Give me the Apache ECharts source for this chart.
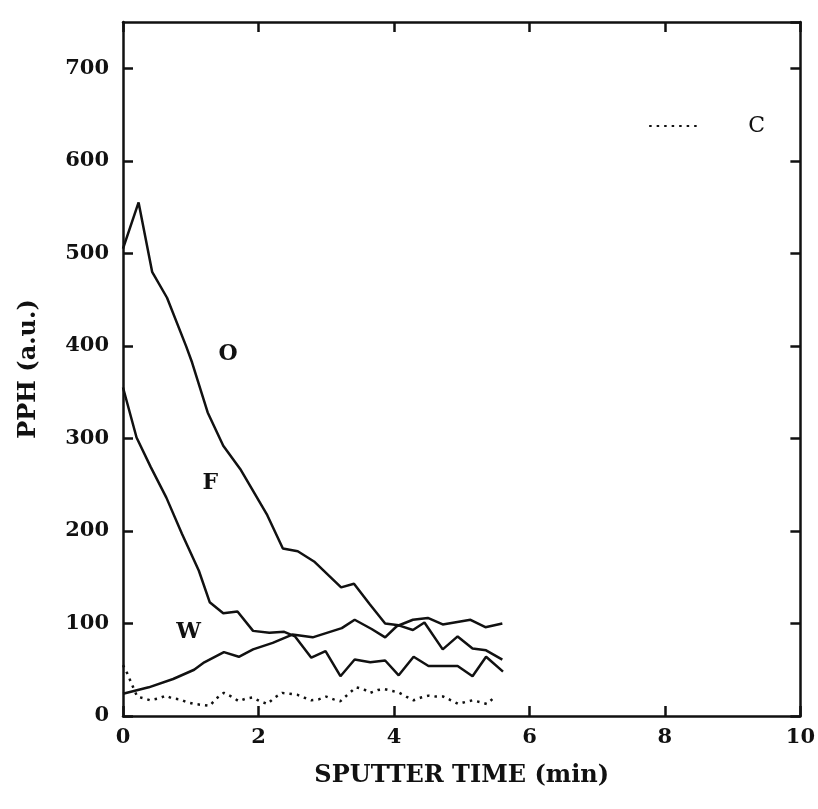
<!DOCTYPE html>
<html>
<head>
<meta charset="utf-8">
<script src="https://cdn.jsdelivr.net/npm/echarts@6/dist/echarts.min.js"></script>
<style>
  html, body { margin: 0; padding: 0; background: #fff; }
  #chart { width: 818px; height: 809px; }
</style>
</head>
<body>
<div id="chart"></div>
<script>
// sputter time (min), PPH (a.u.)
var oData = [[0, 505], [0.23, 555], [0.43, 480], [0.65, 452], [0.93, 400], [1.02, 382], [1.25, 328],
    [1.48, 292], [1.73, 267], [2.13, 217], [2.36, 181], [2.58, 178], [2.82, 167], [3.22, 139],
    [3.41, 143], [3.64, 121], [3.87, 100], [4.07, 98], [4.28, 93], [4.45, 101], [4.72, 72],
    [4.94, 86], [5.16, 73], [5.36, 71], [5.6, 61]];
var fData = [[0, 355], [0.2, 301], [0.41, 269], [0.64, 236], [0.87, 197], [1.12, 157], [1.28, 123],
    [1.48, 111], [1.69, 113], [1.92, 92], [2.16, 90], [2.38, 91], [2.54, 86], [2.78, 63],
    [2.99, 70], [3.21, 43], [3.42, 61], [3.65, 58], [3.87, 60], [4.07, 44], [4.29, 64],
    [4.51, 54], [4.94, 54], [5.16, 43], [5.36, 64], [5.61, 48]];
var wData = [[0, 24], [0.38, 31], [0.74, 40], [1.05, 50], [1.2, 58], [1.49, 69], [1.71, 64],
    [1.92, 72], [2.21, 79], [2.5, 88], [2.8, 85], [3.23, 95], [3.42, 104], [3.67, 94],
    [3.87, 85], [4.04, 97], [4.28, 104], [4.5, 106], [4.72, 99], [5.13, 104], [5.35, 96], [5.6, 100]];
var cData = [[0, 55], [0.07, 45], [0.12, 36], [0.21, 21], [0.31, 19], [0.4, 17], [0.53, 19],
    [0.63, 22], [0.73, 19], [0.84, 18], [0.94, 15], [1.05, 13], [1.17, 12], [1.28, 11],
    [1.38, 19], [1.49, 25], [1.6, 21], [1.71, 16], [1.82, 19], [1.91, 20], [2.02, 16],
    [2.13, 13], [2.24, 20], [2.35, 25], [2.46, 24], [2.57, 23], [2.67, 20], [2.78, 17],
    [2.89, 18], [3.0, 21], [3.11, 18], [3.21, 16], [3.33, 24], [3.44, 31], [3.55, 29],
    [3.65, 25], [3.76, 28], [3.86, 29], [3.98, 27], [4.08, 25], [4.18, 21], [4.29, 17],
    [4.4, 20], [4.51, 22], [4.62, 21], [4.73, 21], [4.84, 17], [4.95, 13], [5.05, 15],
    [5.16, 17], [5.27, 15], [5.37, 13], [5.48, 20]];

// curve labels placed in data coordinates
var curveLabels = {O: [1.55, 391], F: [1.29, 251], W: [0.97, 90]};

var FONT = '"DejaVu Serif", "Liberation Serif", serif';
var INK = '#111';

var chart = echarts.init(document.getElementById('chart'), null, {renderer: 'canvas'});

function curveLabel(name) {
    return {
        symbol: 'circle',
        symbolSize: 0,
        label: {
            show: true, position: 'inside', formatter: name,
            fontFamily: FONT, fontWeight: 'bold', fontSize: 22, color: INK
        },
        data: [{coord: curveLabels[name]}]
    };
}

function solid(name, data) {
    return {
        name: name,
        type: 'line',
        data: data,
        symbol: 'none',
        silent: true,
        lineStyle: {color: INK, width: 2.5},
        markPoint: curveLabel(name),
        animation: false
    };
}

// frame: every side gets the axis line and inward ticks
function frameAxis(extra) {
    var axis = {
        axisLine: {show: true, onZero: false, lineStyle: {color: INK, width: 2.5}},
        axisTick: {show: true, inside: true, length: 10, lineStyle: {color: INK, width: 2.5}},
        splitLine: {show: false}
    };
    return Object.assign(axis, extra);
}

var option = {
    backgroundColor: '#fff',
    animation: false,
    grid: {left: 123, right: 10, top: 22, bottom: 93},
    legend: {
        data: ['C'],
        right: 48,
        top: 110,
        itemWidth: 52,
        itemHeight: 10,
        itemStyle: {opacity: 0},
        textStyle: {fontFamily: FONT, fontSize: 22, color: INK, padding: [0, 0, 0, 42]}
    },
    xAxis: [
        frameAxis({
            type: 'value', position: 'bottom', min: 0, max: 10, interval: 2,
            name: 'SPUTTER TIME (min)', nameLocation: 'middle', nameGap: 48,
            nameTextStyle: {fontFamily: FONT, fontWeight: 'bold', fontSize: 24, color: INK},
            axisLabel: {fontFamily: FONT, fontWeight: 'bold', fontSize: 21, color: INK, margin: 11}
        }),
        frameAxis({
            type: 'value', position: 'top', min: 0, max: 10, interval: 2,
            axisLabel: {show: false}
        })
    ],
    yAxis: [
        frameAxis({
            type: 'value', position: 'left', min: 0, max: 750, interval: 100,
            name: 'PPH (a.u.)', nameLocation: 'middle', nameGap: 82,
            nameTextStyle: {fontFamily: FONT, fontWeight: 'bold', fontSize: 24, color: INK},
            axisLabel: {
                fontFamily: FONT, fontWeight: 'bold', fontSize: 21, color: INK, margin: 14,
                showMaxLabel: false,
                formatter: function (v) { return v > 700 ? '' : String(v); }
            }
        }),
        frameAxis({
            type: 'value', position: 'right', min: 0, max: 750, interval: 100,
            axisLabel: {show: false}
        })
    ],
    series: [
        solid('O', oData),
        solid('F', fData),
        solid('W', wData),
        {
            name: 'C',
            type: 'line',
            data: cData,
            symbol: 'none',
            silent: true,
            lineStyle: {color: INK, width: 2.5, type: [2.5, 5]},
            itemStyle: {color: INK},
            animation: false
        }
    ]
};

chart.setOption(option);
</script>
</body>
</html>
